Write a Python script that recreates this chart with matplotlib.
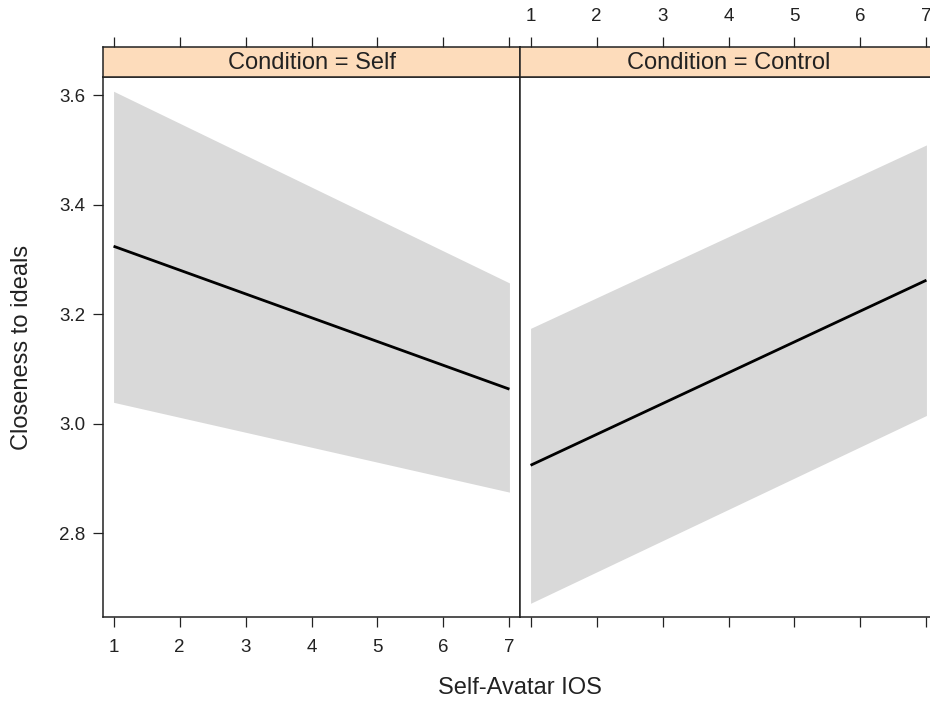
import matplotlib
matplotlib.use("Agg")
import matplotlib.pyplot as plt

# effect of self-avatar IOS on closeness to ideals, per condition
ios = [1, 7]
panels = ["Self", "Control"]
self_fit = [3.324, 3.063]
self_lower = [3.039, 2.875]
self_upper = [3.607, 3.257]
control_fit = [2.924, 3.262]
control_lower = [2.672, 3.015]
control_upper = [3.174, 3.509]

x_ticks = [1, 2, 3, 4, 5, 6, 7]
y_ticks = [2.8, 3.0, 3.2, 3.4, 3.6]

plt.rcParams["font.family"] = ["Liberation Sans", "DejaVu Sans"]

W, H = 930, 701
fig = plt.figure(figsize=(W / 100, H / 100), dpi=100)

frame_col = "#222222"
strip_col = "#fddcbb"
band_col = "#d9d9d9"

xlim = (0.84, 7.16)
ylim = (2.647, 3.633)

panel_left = [103, 520]
panel_w = 417
panel_top, panel_bot = 77, 617
strip_top = 47

series = {
    "Self": (self_fit, self_lower, self_upper),
    "Control": (control_fit, control_lower, control_upper),
}

for i, name in enumerate(panels):
    x0 = panel_left[i] / W
    w = panel_w / W
    ax = fig.add_axes([x0, 1 - panel_bot / H, w, (panel_bot - panel_top) / H])
    fit, lo, hi = series[name]
    ax.fill_between(ios, lo, hi, color=band_col, linewidth=0)
    ax.plot(ios, fit, color="black", linewidth=2.0, solid_capstyle="butt")
    ax.set_xlim(*xlim)
    ax.set_ylim(*ylim)
    ax.set_xticks(x_ticks)
    ax.set_yticks(y_ticks)
    ax.set_yticklabels([f"{v:.1f}" for v in y_ticks])
    for sp in ax.spines.values():
        sp.set_color(frame_col)
        sp.set_linewidth(1.1)
    ax.tick_params(axis="both", direction="out", length=7.5, width=0.9,
                   color=frame_col, labelsize=13.5, labelcolor="#222222")
    ax.tick_params(axis="x", pad=8)
    ax.tick_params(axis="y", pad=5)
    if i == 0:
        ax.tick_params(axis="y", left=True, right=False, labelleft=True)
    else:
        ax.tick_params(axis="y", left=False, right=False, labelleft=False)
        ax.tick_params(axis="x", labelbottom=False)

    # strip with condition name
    sax = fig.add_axes([x0, 1 - panel_top / H, w, (panel_top - strip_top) / H])
    sax.set_facecolor(strip_col)
    sax.set_xlim(*xlim)
    sax.set_ylim(0, 1)
    sax.set_yticks([])
    sax.set_xticks(x_ticks)
    sax.xaxis.tick_top()
    sax.tick_params(axis="x", direction="out", length=7.5, width=0.9,
                    color=frame_col, labelsize=13.5, labelcolor="#222222",
                    pad=8, labeltop=(i == 1))
    for sp in sax.spines.values():
        sp.set_color(frame_col)
        sp.set_linewidth(1.1)
    sax.text(0.5, 0.47, f"Condition = {name}", transform=sax.transAxes,
             ha="center", va="center", fontsize=17, color="#222222")

fig.text(22 / W, 1 - 347 / H, "Closeness to ideals", rotation=90,
         ha="center", va="center", fontsize=17, color="#222222")
fig.text(520 / W, 1 - 688 / H, "Self-Avatar IOS",
         ha="center", va="center", fontsize=17, color="#222222")

fig.savefig("out.png", dpi=100)
